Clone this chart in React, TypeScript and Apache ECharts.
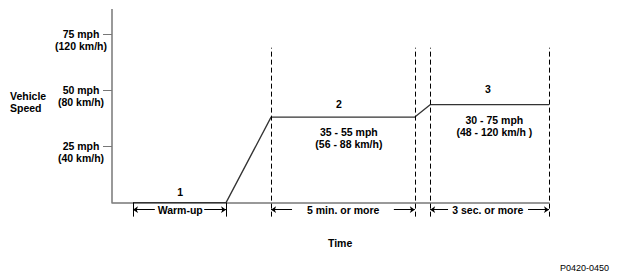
import React, { useEffect, useRef } from "react";
import * as echarts from "echarts";

// Time axis (arbitrary units 0..100) and vehicle speed (mph)
const timePoints = [4.8, 26.1, 36.4, 69.3, 72.8, 100];
const speedMph = [0, 0, 38, 38, 43.5, 43.5];

const speedTicks = [25, 50, 75];
const mphLabels = ["25 mph", "50 mph", "75 mph"];
const kmhLabels = ["(40 km/h)", "(80 km/h)", "(120 km/h)"];
const speedAxisTop = 86;

// dashed phase boundaries
const phaseBounds = [36.4, 69.3, 72.8, 100];
const dashTop = 68.8;
const dashBottom = -6.2;

// warm-up boundaries (solid)
const warmBounds = [4.8, 26.1];

// duration arrows: [start, end] pairs and text
const arrowY = -3.1;
const durationTexts = ["Warm-up", "5 min. or more", "3 sec. or more"];
const durationCenters = [15.6, 52.9, 86.0];
const durationLeft = [
  [4.8, 9.8],
  [36.4, 41.2],
  [72.8, 76.9],
];
const durationRight = [
  [21.1, 26.1],
  [64.5, 69.3],
  [95.2, 100],
];

// phase number labels
const phaseNames = ["1", "2", "3"];
const phaseLabelPos = [
  [15.6, 4.9],
  [51.9, 44],
  [86.0, 50.6],
];
const rangeTexts = ["35 - 55 mph\n(56 - 88 km/h)", "30 - 75 mph\n(48 - 120 km/h )"];
const rangePos = [
  [54.2, 28.6],
  [87.5, 34.1],
];
const timeLabelPos = [52.2, -17.8];

const FONT = "'Liberation Sans', Arial, sans-serif";

export default function App() {
  const ref = useRef<HTMLDivElement>(null);
  useEffect(() => {
    if (!ref.current) return;
    const chart = echarts.init(ref.current, undefined, { renderer: "svg" });
    const textStyle = {
      color: "#000",
      fontFamily: FONT,
      fontWeight: "bold" as const,
      fontSize: 10.5,
      lineHeight: 12,
    };
    const blackSolid = { type: "solid", color: "#000", width: 1 };
    const markLines: any[] = [];
    // vertical speed axis line (0 .. top)
    markLines.push([
      { coord: [0, 0], lineStyle: { type: "solid", color: "#777", width: 1.5 } },
      { coord: [0, speedAxisTop] },
    ]);
    phaseBounds.forEach((x) => {
      markLines.push([
        { coord: [x, dashBottom], lineStyle: { type: [5, 3], color: "#000", width: 1 } },
        { coord: [x, dashTop] },
      ]);
    });
    warmBounds.forEach((x) => {
      markLines.push([
        { coord: [x, dashBottom], lineStyle: blackSolid },
        { coord: [x, 0] },
      ]);
    });
    durationLeft.forEach(([a, b]) => {
      markLines.push([
        { coord: [a, arrowY], symbol: "arrow", lineStyle: blackSolid },
        { coord: [b, arrowY], symbol: "none" },
      ]);
    });
    durationRight.forEach(([a, b]) => {
      markLines.push([
        { coord: [a, arrowY], symbol: "none", lineStyle: blackSolid },
        { coord: [b, arrowY], symbol: "arrow" },
      ]);
    });

    const markPoints: any[] = [];
    phaseNames.forEach((n, i) => {
      markPoints.push({ coord: phaseLabelPos[i], value: n });
    });
    rangeTexts.forEach((t, i) => {
      markPoints.push({ coord: rangePos[i], value: t });
    });
    durationTexts.forEach((t, i) => {
      markPoints.push({ coord: [durationCenters[i], arrowY], value: t });
    });
    markPoints.push({ coord: timeLabelPos, value: "Time" });

    chart.setOption({
      animation: false,
      grid: { left: 112, top: 9, width: 437, height: 238.7 },
      xAxis: {
        type: "value",
        min: 0,
        max: 100,
        axisLine: { show: true, onZero: true, lineStyle: { color: "#777", width: 1.5 } },
        axisTick: { show: false },
        axisLabel: { show: false },
        splitLine: { show: false },
      },
      yAxis: {
        type: "value",
        min: -20,
        max: speedAxisTop,
        axisLine: { show: false },
        axisTick: {
          show: true,
          length: 9,
          customValues: speedTicks,
          lineStyle: { color: "#777", width: 1 },
        },
        axisLabel: {
          show: true,
          customValues: speedTicks,
          align: "center",
          verticalAlign: "middle",
          margin: 31,
          formatter: (v: number) => {
            const i = speedTicks.indexOf(v);
            if (i < 0) return "";
            return `{s| }\n{s|${mphLabels[i]}}\n{s|${kmhLabels[i]}}`;
          },
          rich: { s: { ...textStyle, align: "center" } },
        },
        splitLine: { show: false },
      },
      graphic: [
        {
          type: "text",
          left: 10,
          top: 90,
          style: {
            text: "Vehicle\nSpeed",
            fill: "#000",
            font: `bold 10.5px ${FONT}`,
            lineHeight: 12,
          },
        },
        {
          type: "text",
          right: 10,
          top: 263,
          style: {
            text: "P0420-0450",
            fill: "#000",
            font: `9px ${FONT}`,
          },
        },
      ],
      series: [
        {
          type: "line",
          data: timePoints.map((t, i) => [t, speedMph[i]]),
          symbol: "none",
          clip: false,
          z: 3,
          lineStyle: { color: "#333", width: 1.3 },
          markLine: {
            silent: true,
            symbol: ["none", "none"],
            symbolSize: 5,
            label: { show: false },
            data: markLines,
          },
          markPoint: {
            silent: true,
            symbol: "circle",
            symbolSize: 0,
            itemStyle: { color: "transparent" },
            label: {
              show: true,
              position: "inside",
              formatter: (p: any) => p.value,
              ...textStyle,
              align: "center",
              verticalAlign: "middle",
            },
            data: markPoints,
          },
        },
      ],
    });
    return () => chart.dispose();
  }, []);
  return (
    <div
      ref={ref}
      style={{ position: "absolute", left: 0, top: 0, width: 619, height: 280, background: "#fff" }}
    />
  );
}
